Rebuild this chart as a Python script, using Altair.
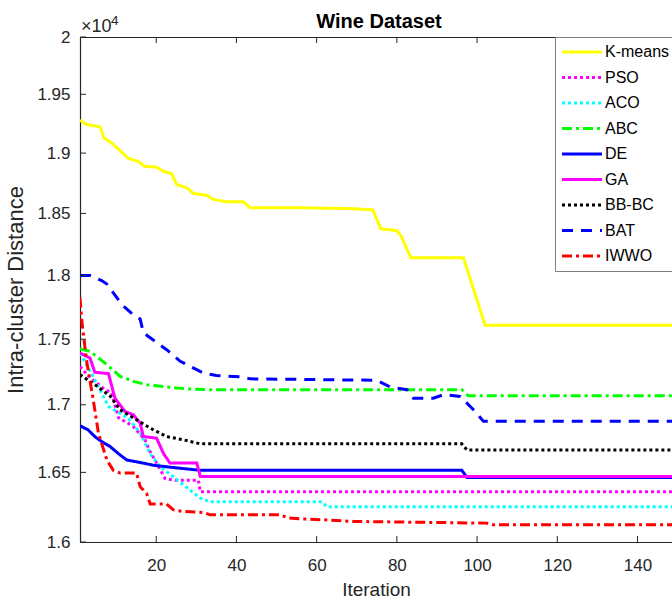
import altair as alt
import pandas as pd

methods = ["K-means", "PSO", "ACO", "ABC", "DE", "GA", "BB-BC", "BAT", "IWWO"]
colors = ["#FFFF00", "#FF00FF", "#00FFFF", "#00FF00", "#0000FF", "#FF00FF", "#000000", "#0000FF", "#FF0000"]
dashes = [[1, 0], [3, 3], [3, 3], [10, 4, 3, 4], [1, 0], [1, 0], [3, 3], [11, 8], [10, 4, 3, 4]]

kmeans_x = [1, 2.6, 6, 7, 8.9, 11, 13, 15.5, 17.2, 20, 21.8, 23.9, 25.1, 27.6, 29.3, 32.6, 34.2, 37.6, 41.7, 43.4, 55, 68, 74, 76, 80, 81, 83.5, 96.6, 102, 150]
kmeans_y = [19278, 19241, 19222, 19127, 19084, 19020, 18957, 18929, 18888, 18883, 18847, 18828, 18738, 18711, 18664, 18650, 18615, 18596, 18596, 18547, 18547, 18540, 18530, 18375, 18360, 18320, 18141, 18141, 17608, 17608]

pso_x = [1, 3, 7.2, 8.9, 10.6, 14.3, 17.2, 18.5, 19.7, 22.2, 24.7, 30.5, 31, 150]
pso_y = [17291, 17220, 17114, 17090, 16903, 16838, 16740, 16650, 16590, 16455, 16443, 16443, 16359, 16359]

aco_x = [1, 4, 8.1, 13, 16, 18.5, 21, 24.3, 28.4, 31, 33.4, 61.3, 62.5, 150]
aco_y = [17393, 17228, 16988, 16900, 16790, 16636, 16540, 16467, 16372, 16313, 16287, 16287, 16252, 16252]

abc_x = [1, 3.5, 7.7, 11, 14.3, 17.6, 22.6, 27.6, 32.6, 96.2, 97.8, 150]
abc_y = [17424, 17406, 17305, 17215, 17177, 17152, 17135, 17120, 17114, 17114, 17068, 17068]

de_x = [1, 3, 4.7, 6.4, 8.5, 11, 12.7, 16, 19.3, 24.3, 31, 96.2, 97.5, 150]
de_y = [16843, 16813, 16763, 16726, 16689, 16627, 16590, 16572, 16552, 16535, 16515, 16515, 16462, 16462]

ga_x = [1, 3.5, 4.7, 8.1, 9.7, 12.2, 14.3, 16, 16.8, 20.1, 21.8, 23.4, 30.1, 31, 150]
ga_y = [17393, 17355, 17246, 17236, 17051, 16950, 16925, 16863, 16763, 16751, 16639, 16569, 16569, 16470, 16470]

bbbc_x = [1, 5.3, 8.6, 11, 15.1, 18.5, 22.6, 26.8, 31, 96.2, 97.5, 150]
bbbc_y = [17228, 17139, 17063, 16963, 16888, 16826, 16763, 16739, 16709, 16709, 16664, 16664]

bat_x = [1, 3.5, 6.4, 7.7, 10.2, 11.4, 14.3, 16, 16.8, 22.6, 26, 30.1, 31.7, 35, 40.9, 43.4, 61, 75, 78.3, 82.5, 84.1, 89.1, 91.6, 95.8, 99.1, 101.6, 150]
bat_y = [18000, 18000, 17959, 17932, 17824, 17770, 17689, 17657, 17549, 17419, 17330, 17266, 17241, 17221, 17211, 17196, 17190, 17185, 17135, 17114, 17050, 17050, 17076, 17063, 16963, 16876, 16876]

iwwo_x = [1, 1.4, 2.6, 4.3, 5.6, 7.7, 9.3, 11, 15.1, 16, 17.6, 18.5, 22.6, 24.3, 26.8, 31.8, 33.4, 50.9, 53, 57.5, 61.7, 69.2, 102.4, 104.1, 150]
iwwo_y = [17824, 17657, 17342, 17037, 16788, 16590, 16515, 16495, 16495, 16395, 16348, 16271, 16271, 16229, 16217, 16210, 16193, 16193, 16170, 16163, 16158, 16146, 16134, 16122, 16122]

x_ticks = [20, 40, 60, 80, 100, 120, 140]
y_ticks = [16000, 16500, 17000, 17500, 18000, 18500, 19000, 19500, 20000]

series = [kmeans_x, pso_x, aco_x, abc_x, de_x, ga_x, bbbc_x, bat_x, iwwo_x]
series_y = [kmeans_y, pso_y, aco_y, abc_y, de_y, ga_y, bbbc_y, bat_y, iwwo_y]

rows = []
for m, xs, ys in zip(methods, series, series_y):
    for i, (xv, yv) in enumerate(zip(xs, ys)):
        rows.append({"method": m, "iter": xv, "dist": yv, "o": i})
df = pd.DataFrame(rows)

W, H = 592, 505
FONT = "Liberation Sans"
AX = "#262626"

xscale = alt.Scale(domain=[1, 148.6], nice=False, zero=False)
yscale = alt.Scale(type="log", domain=[16000, 20000], nice=False, zero=False)

legend = alt.Legend(
    title=None, orient="none", legendX=475, legendY=0,
    symbolType="M-1.6,0L6.4,0", symbolSize=100, symbolStrokeWidth=3,
    labelFontSize=16, labelFont=FONT, labelColor="#000000", labelOffset=27,
    padding=7, rowPadding=9.5, fillColor="#FFFFFF", strokeColor="#7F7F7F",
    labelLimit=200,
)

y_axis = alt.Axis(
    values=y_ticks, labelExpr="datum.value / 10000 + ''", title="Intra-cluster Distance",
    orient="left", ticks=False, grid=False,
    labelFont=FONT, labelFontSize=17, labelColor=AX, labelPadding=10,
    titleFont=FONT, titleFontSize=22, titleFontWeight="normal", titleColor=AX, titlePadding=9,
    domainColor=AX, domainWidth=1.2)

x_axis = alt.Axis(
    values=x_ticks, title="Iteration", orient="bottom", ticks=False, grid=False,
    labelFont=FONT, labelFontSize=17, labelColor=AX, labelPadding=15,
    titleFont=FONT, titleFontSize=19, titleFontWeight="normal", titleColor=AX, titlePadding=7,
    domainColor=AX, domainWidth=1.2)

lines = alt.Chart(df).mark_line(strokeWidth=3, clip=True).encode(
    x=alt.X("iter:Q", scale=xscale, axis=x_axis),
    y=alt.Y("dist:Q", scale=yscale, axis=y_axis),
    color=alt.Color("method:N", scale=alt.Scale(domain=methods, range=colors), sort=methods, legend=legend),
    strokeDash=alt.StrokeDash("method:N", scale=alt.Scale(domain=methods, range=dashes), sort=methods, legend=legend),
    order=alt.Order("o:Q"),
)

ydf = pd.DataFrame({"yt": y_ticks})
xdf = pd.DataFrame({"xt": x_ticks})

ytick_rules = alt.Chart(ydf).mark_rule(color=AX, strokeWidth=1).encode(
    y=alt.Y("yt:Q", scale=yscale, axis=y_axis),
    x=alt.value(0), x2=alt.value(6),
)
xtick_bottom = alt.Chart(xdf).mark_rule(color=AX, strokeWidth=1).encode(
    x=alt.X("xt:Q", scale=xscale, axis=None),
    y=alt.value(H), y2=alt.value(H - 6),
)
xtick_top = alt.Chart(xdf).mark_rule(color=AX, strokeWidth=1).encode(
    x=alt.X("xt:Q", scale=xscale, axis=alt.Axis(
        orient="top", values=x_ticks, labels=False, ticks=False, grid=False, domain=True,
        domainColor=AX, domainWidth=1.2,
        title="Wine Dataset", titleFont=FONT, titleFontSize=20, titleFontWeight="bold", titleColor="#000000",
        titleBaseline="alphabetic", titlePadding=10, titleX=298.5)),
    y=alt.value(0), y2=alt.value(6),
)

exp_base = alt.Chart(pd.DataFrame({"t": ["\u00d710"]})).mark_text(
    align="left", baseline="alphabetic", font=FONT, fontSize=18, color=AX
).encode(text="t:N", x=alt.value(1), y=alt.value(-5))
exp_pow = alt.Chart(pd.DataFrame({"t": ["4"]})).mark_text(
    align="left", baseline="alphabetic", font=FONT, fontSize=13.5, color=AX
).encode(text="t:N", x=alt.value(31), y=alt.value(-12))

chart = alt.layer(lines, ytick_rules, xtick_bottom, xtick_top, exp_base, exp_pow).properties(
    width=W, height=H,
    autosize=alt.AutoSizeParams(type="none"),
    padding={"left": 80, "top": 37, "right": 0, "bottom": 60},
).configure_view(stroke=None).configure(background="#FFFFFF")

chart.save("out.html", embed_options={"renderer": "svg", "actions": False})
